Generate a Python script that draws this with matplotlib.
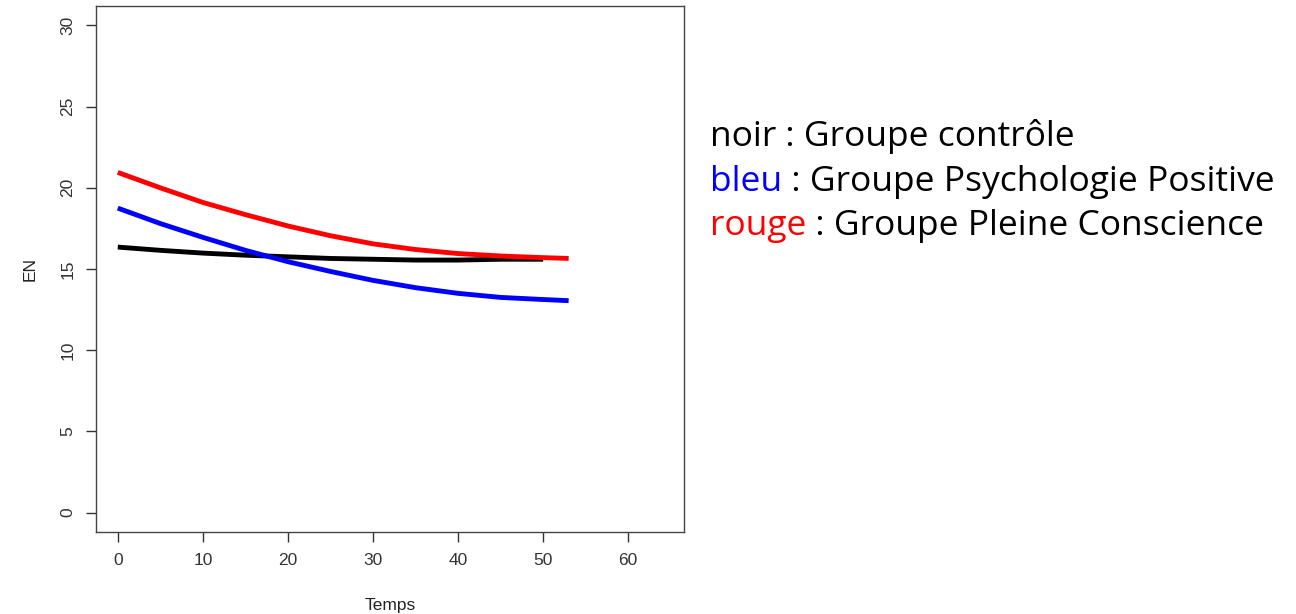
import numpy as np
import matplotlib
matplotlib.use("Agg")
import matplotlib.pyplot as plt

# values (Temps vs EN)
t_rouge = [0, 5, 10, 15, 20, 25, 30, 35, 40, 45, 50, 53]
en_rouge = [20.95, 20.0, 19.1, 18.35, 17.65, 17.05, 16.55, 16.2, 15.95, 15.8, 15.7, 15.65]
t_bleu = [0, 5, 10, 15, 20, 25, 30, 35, 40, 45, 50, 53]
en_bleu = [18.75, 17.8, 16.95, 16.15, 15.45, 14.85, 14.3, 13.85, 13.5, 13.25, 13.12, 13.05]
t_noir = [0, 5, 10, 15, 20, 25, 30, 35, 40, 45, 50]
en_noir = [16.35, 16.15, 15.98, 15.85, 15.75, 15.65, 15.6, 15.55, 15.55, 15.6, 15.6]

legend_keys = ["noir", "bleu", "rouge"]
legend_cols = ["black", "blue", "red"]
legend_txt = [" : Groupe contrôle", " : Groupe Psychologie Positive", " : Groupe Pleine Conscience"]

plt.rcParams['font.family'] = ['Liberation Sans', 'DejaVu Sans']

fig = plt.figure(figsize=(12.96, 6.14), dpi=100)
W, H = 1296, 614
ax = fig.add_axes([96 / W, 1 - 532 / H, (684 - 96) / W, (532 - 6) / H])

ax.plot(t_noir, en_noir, color="black", lw=3.5, solid_capstyle="butt")
ax.plot(t_bleu, en_bleu, color="blue", lw=3.5, solid_capstyle="butt")
ax.plot(t_rouge, en_rouge, color="red", lw=3.5, solid_capstyle="butt")

ax.set_xlim(-2.56, 66.56)
ax.set_ylim(-1.2, 31.2)
ax.set_xticks(np.arange(0, 61, 10))
ax.set_yticks(np.arange(0, 31, 5))
for sp in ax.spines.values():
    sp.set_color("#444444")
    sp.set_linewidth(1.0)
ax.tick_params(colors="#333333", labelsize=12.5, length=7, width=1.0, pad=8)
for lab in ax.get_yticklabels():
    lab.set_rotation(90)
    lab.set_va("center")
ax.set_xlabel("Temps", fontsize=12.5, color="#222222", labelpad=22)
ax.set_ylabel("EN", fontsize=12.5, color="#222222", labelpad=16)

# coloured legend text on the right
fig.canvas.draw()
r = fig.canvas.get_renderer()
ys = [137, 182, 226]
for key, col, txt, y in zip(legend_keys, legend_cols, legend_txt, ys):
    t1 = fig.text(710 / W, 1 - y / H, key, color=col, fontsize=25.5,
                  family=['Open Sans', 'DejaVu Sans'], va="center", ha="left")
    bb = t1.get_window_extent(r)
    fig.text(bb.x1 / W, 1 - y / H, txt, color="black", fontsize=25.5,
             family=['Open Sans', 'DejaVu Sans'], va="center", ha="left")

fig.savefig("out.png", dpi=100)
